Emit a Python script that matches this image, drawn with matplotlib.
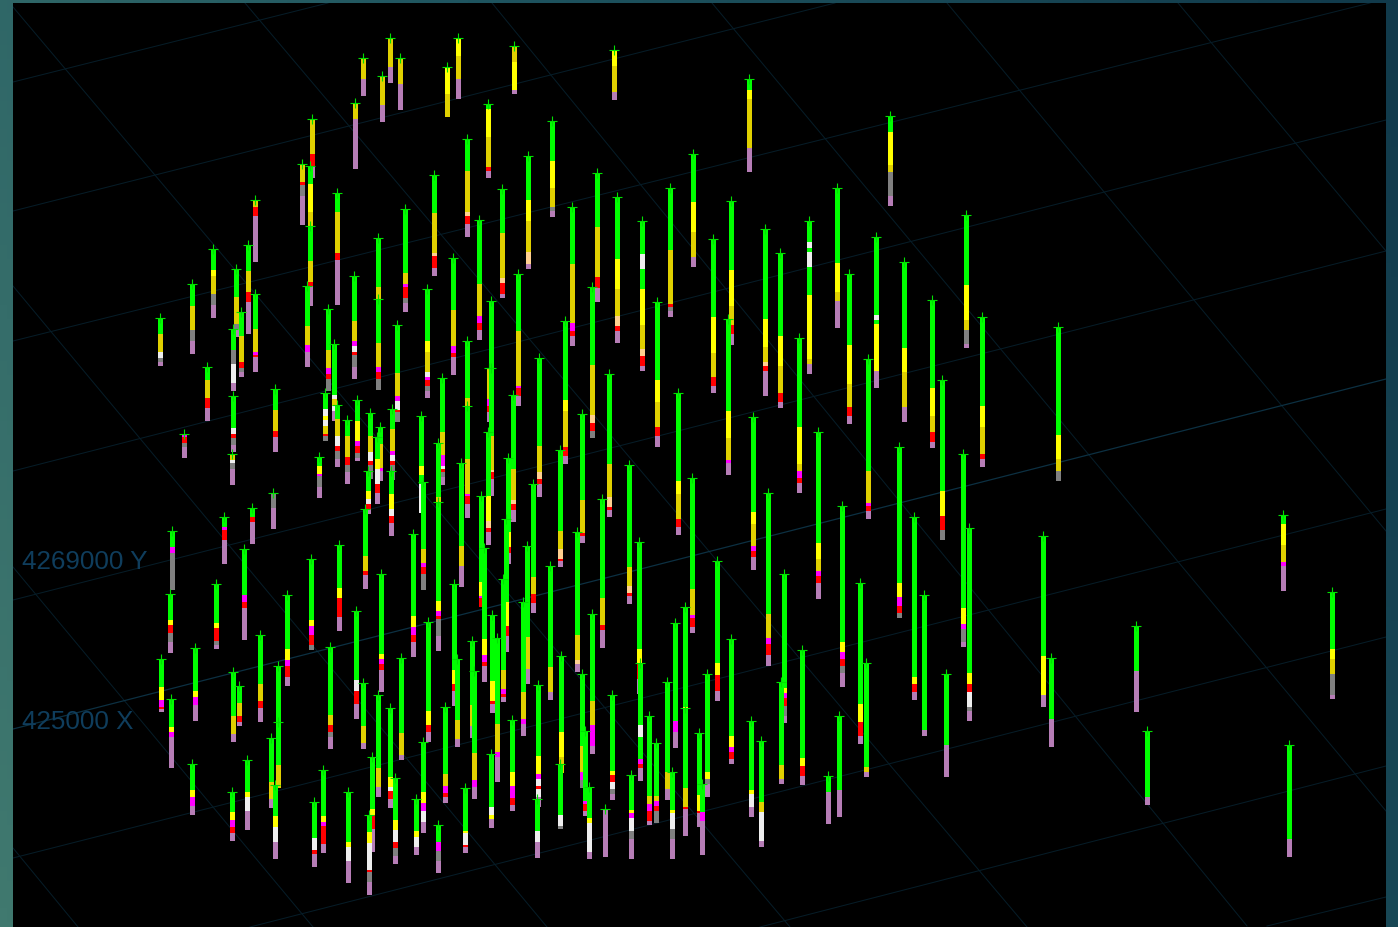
import numpy as np
import matplotlib
matplotlib.use("Agg")
import matplotlib.pyplot as plt
from matplotlib.collections import LineCollection
from matplotlib.colors import LinearSegmentedColormap

# HOLE POSITIONS AS READ FROM THE VIEW (SCREEN X, COLLAR Y)
hole_x = [160, 192, 213, 236, 248, 255, 255, 241, 233, 207,
          233, 275, 184, 302, 310, 312, 310, 355, 363, 382,
          390, 400, 447, 458, 488, 337, 405, 434, 467, 378,
          378, 354, 307, 328, 334, 397, 427, 453, 479, 491,
          489, 491, 232, 319, 337, 347, 357, 370, 377, 380,
          392, 421, 423, 442, 438, 438, 461, 467, 467, 481,
          484, 488, 172, 170, 224, 252, 273, 244, 216, 161,
          195, 171, 192, 233, 239, 260, 287, 311, 339, 330,
          278, 278, 271, 247, 232, 275, 314, 323, 348, 369,
          372, 395, 416, 438, 465, 491, 423, 445, 474, 472,
          457, 454, 428, 413, 381, 401, 390, 378, 363, 356,
          365, 368, 391, 492, 497, 514, 614, 749, 890, 552,
          528, 502, 597, 572, 617, 642, 670, 693, 713, 731,
          765, 780, 809, 837, 849, 876, 904, 932, 966, 518,
          565, 592, 657, 728, 539, 609, 582, 678, 753, 799,
          818, 868, 899, 942, 963, 513, 560, 508, 629, 692,
          768, 842, 533, 602, 577, 550, 639, 640, 717, 784,
          860, 914, 969, 924, 946, 866, 802, 839, 828, 781,
          761, 751, 731, 707, 685, 685, 675, 699, 702, 672,
          667, 649, 656, 631, 612, 592, 582, 585, 589, 605,
          561, 560, 538, 537, 512, 523, 527, 506, 503, 982,
          1058, 1043, 1051, 1136, 1147, 1283, 1332, 1289, 325]
hole_top = [319, 285, 250, 270, 246, 201, 295, 313, 330, 368,
            397, 390, 435, 165, 167, 120, 227, 104, 59, 77,
            39, 59, 68, 39, 105, 194, 210, 176, 140, 239,
            300, 277, 287, 310, 345, 326, 290, 259, 221, 302,
            369, 369, 455, 458, 406, 421, 401, 414, 438, 428,
            410, 417, 483, 379, 444, 503, 464, 342, 407, 497,
            549, 433, 532, 595, 518, 509, 494, 550, 585, 660,
            649, 700, 765, 673, 687, 636, 596, 560, 546, 648,
            667, 723, 739, 761, 793, 786, 803, 771, 793, 816,
            758, 779, 800, 826, 789, 755, 743, 708, 672, 642,
            660, 585, 623, 535, 575, 659, 709, 696, 684, 612,
            510, 472, 472, 616, 639, 47, 51, 80, 117, 122,
            157, 190, 174, 208, 198, 222, 189, 155, 240, 202,
            230, 254, 222, 189, 275, 238, 263, 301, 216, 275,
            322, 288, 303, 320, 359, 375, 415, 394, 418, 339,
            433, 360, 448, 381, 455, 396, 451, 459, 466, 479,
            494, 507, 485, 500, 533, 567, 543, 664, 562, 575,
            584, 518, 529, 596, 675, 664, 651, 717, 777, 683,
            742, 722, 640, 675, 608, 709, 624, 734, 785, 773,
            683, 717, 744, 776, 696, 615, 675, 732, 788, 810,
            657, 765, 686, 800, 721, 603, 547, 520, 580, 318,
            328, 537, 659, 627, 732, 516, 593, 746, 394]

# LITHOLOGY LOG OF EACH HOLE: CODE + Y WHERE THAT UNIT ENDS
hole_logs = [
    "G335 D353 W359 A363 P366", "G307 D331 A342 P354", "G271 Y277 D295 A306 P318",
    "G298 D325 A330 P337", "G272 D293 R303 P334", "D208 R217 P262",
    "G330 D353 M356 R358 P372", "G337 D363 R369 A373 P377", "G351 A365 W384 P391",
    "G381 D399 R409 P421",
    "G429 W435 R439 A446 P452", "G411 D432 R438 P452", "M438 R444 A448 P458",
    "D183 R186 A197 P225", "G185 Y213 D226", "D155 R167 P178",
    "G262 D283 R287 P306", "D120 P169", "D80 P96", "D106 P122",
    "D68 P83", "D85 P110", "Y95 D117", "Y57 D80 P99",
    "G110 Y138 D168 R172 P178", "G213 D254 R261 P305", "G274 D285 M288 R299 A304 P312",
    "G214 D254 T257 R269 P276", "G172 D213 T217 R225 P237", "G288 D300",
    "G344 D368 M373 R380 A390", "G322 D342 M347 W353 R356 A368 P379", "G327 D346 M353 P367",
    "G351 D369 M375 R380 A391", "G396 W400 D407 W412 P421", "G374 D397 M402 W411 R413 A422",
    "G342 Y353 D373 W378 M381 R387 A392 P398", "G311 D347 M354 R358 P375",
    "G285 D317 M324 R331 P340", "G369",
    "D400 M407 R413 P422", "G437 D471 T473 R480 P496", "D461 W464 A470 P485",
    "G467 Y475 M477 A488 P498", "G420 D437 W447 R452 A460 P467", "G437 D458 R466 A473 P484",
    "G422 Y442 M447 R454 A459 P461", "G437 D453 W462 R466 A479", "G460 Y470 W485 R494 P504",
    "G445 D469 M472 P481",
    "G430 D452 M456 W462 R466 A480", "G467 Y476 G485 W513", "G550 D564 M568 R575 A590",
    "G433 D456 M467 W470 R473 A478 P485", "G498 D503", "G602 Y612 M617 R620 A637 P651",
    "G547 D567 P587", "G399 D407", "G460 D495 M497 R505 P518", "G583 Y597 M599 R607",
    "G640 Y656 M663 R667 P682", "G497 Y522 T529 R533 P545", "G548 M554 A590",
    "G621 Y626 R634 A643 P653", "G528 M531 R541 P564", "G518 R523 P544", "A509 P529",
    "G596 M603 R609 P640", "G624 Y629 R642 A646 P649", "G688 Y701 M708 R710 P712",
    "G692 Y698 M706 P721", "G728 Y733 M738 P768", "G791 Y798 M807 P815", "G717 D735 P742",
    "G704 D717 R723 P726", "G685 D702 R709 P722", "G650 Y661 M667 R678 P686",
    "G621 Y627 M636 R646 A650", "G589 Y599 R618 P631", "G716 D726 R733 A738 P749",
    "G723", "G766 D788", "G783 D800 P808", "G793 Y798 W812 P830", "G813 Y821 M828 R834 P841",
    "G817 Y828 W843 P859", "G839 W851 R855 P867", "G817 Y823 M827 R845 P853",
    "G843 Y848 W862 P883", "G833 Y844 W871 R873 A883 P895",
    "G810 Y816 R830 P852", "G821 Y831 W843 R849 A857 P864", "G832 Y838 W848 P855",
    "G843 M852 A862 P873", "G832 Y834 W846 R848 P853", "G808 W816 Y820 P828",
    "G793 Y804 M812 W823 P833", "G775 D787 M794 R798 P803", "G754 D781 M788 P799",
    "G706 D727 P738",
    "G721 D740 P747", "G671 Y685 R692 P706", "G712 Y726 R733 P742",
    "G617 Y628 M636 R643 P657", "G655 Y660 M665 R671 P692", "G734 D756 P760",
    "G778 Y788 W792 R800 P808", "G769 D788 P797", "G727 D744 P749", "G681 W692 R705 P719",
    "G557 D572 R576 P589", "G492 Y500 W505 R510 P514", "G495 Y510 W517 R524 P536",
    "G682 Y702 R705 P713", "G725 D753 M758 P782", "D63 Y91 P94", "Y67 D93 P100",
    "G91 Y100 D149 P172", "G133 Y166 D173 A197 P206", "G162 Y189 D208 A212 P217",
    "G201 Y222 D253 T265 P269", "G234 D279 T284 R295 P298", "G228 D278 R289 P302",
    "G265 D324 M332 R337 P346", "G260 Y290 D317 T327 R332 P343",
    "G255 W270 G290 Y326 D350 T357 R367 P371", "G251 D305 R308 A312 P317",
    "G203 Y233 D258 P267", "G318 Y354 D378 R387 P393", "G271 Y307 D326 R335 P345",
    "G320 Y348 D363 T367 R372 P396", "G337 Y367 D394 R403 P408",
    "G243 W249 G253 W268 G296 Y360 D365 P374", "G264 Y293 D302 P328",
    "G346 Y385 D408 R417 P424", "G316 W321 G325 Y372 P388", "G349 Y373 D408 P422",
    "G389 Y417 D433 R443 P448", "G286 Y321 D331 A345 P348", "G332 D387 M389 R397 P406",
    "G401 Y412 D448 R457 P464", "G366 D416 T424 R432 A438", "G381 Y403 D428 R437 P447",
    "G412 Y439 D461 M464 P475", "G447 D473 T480 R485 P497", "G465 D498 T508 R511 P517",
    "G501 D534 R537 P543", "G482 Y495 D520 R528 P535", "G513 Y525 D547 M552 R558 P570",
    "G428 Y465 D472 M479 R484 P493",
    "G544 Y560 D572 M577 R584 P599", "G472 D504 M507 R512 P519", "G584 Y598 M607 R614 A618",
    "G492 Y517 R531 A540", "G609 Y625 M630 A643 P647", "G470 D501 T505 R511 P522",
    "G532 D550 T560 R562 P567", "G533 Y548 R554 P564", "G568 D587 T594 R597 P604",
    "G590 D616 M619 R628 P633",
    "G615 D639 M645 R656 P666", "G643 Y653 M660 R667 A674 P687", "G578 D595 R604 P613",
    "G599 D626 R631 P648", "G636 D661 T665 P672", "G668 D693 P700", "G650 Y665 R680 P694",
    "G726 W738 G760 M765 R769 P781", "G664 Y676 R692 P701", "G689 Y694 M699 R707 A717 P723",
    "G705 Y723 R737 P744", "G678 Y685 R693 P700", "G674 Y685 R693 W708 A712 P721",
    "G731 P736", "G746 P777", "G768 D773 P777", "G759 Y767 R777 P785", "G791 P817",
    "G793 P824", "G766 D780 P784",
    "G803 D813 W842 P847", "G791 Y795 W808 P817", "G737 Y748 M753 R760 P764",
    "G773 Y780 A785 P797", "G708 Y709", "G789 D808 R810 P836", "G722 M733 P748",
    "G796 Y812 R814 P827", "G813 M822 P855", "G811 Y814 W830 A840 P859",
    "G773 D790 P800", "G797 D805 M812 R822 P825", "G797 D802 M807 R812 A823",
    "G811 Y814 M819 W832 A840 P859", "G772 Y776 R783 W790 A795 P800", "G702 D726 M747 P754",
    "G747 D773 M781 A788", "G802 M805 R812 P816", "G819 Y824 W853 P859", "P857",
    "G733 Y758 D773", "G816 W827 A829", "G757 Y775 M780 W787 R790 W798 P807",
    "G832 W843 P858", "G773 Y787 M799 R806 P811", "G693 D720 M725 P736", "G638 D670 P684",
    "G603 Y627 R637 P652", "G671 D690 M695 R698 P702", "G407 Y428 D455 R460 P467",
    "G436 Y460 D472 A481", "G657 Y696 P707", "G720 P747", "G672 P712", "G798 P805",
    "G525 Y546 D563 M567 P591", "G650 Y660 D675 A696 P699", "G840 P857",
    "G410 W417 Y421 W427 D435 R437 A441",
]
assert len(hole_x) == len(hole_top) == len(hole_logs)

# LITHOLOGY COLOURS
lith_colors = {"G": "#00ff00", "Y": "#ffff00", "D": "#e0d000", "R": "#ff0000", "M": "#ff00ff",
               "W": "#eeeeee", "A": "#808080", "P": "#b67db6", "T": "#ffd090"}

# GRID LINES OF THE 3D VIEW (x0, y0, x1, y1)
grid_rising = [(13, 83, 328, 4), (13, 212, 835, 4), (13, 342, 1370, 4), (13, 472, 1386, 121),
               (13, 601, 1386, 252), (13, 859, 1386, 510), (250, 928, 1386, 638),
               (760, 928, 1386, 767), (1267, 927, 1386, 898)]
grid_bright = [(13, 730, 1386, 380)]
grid_falling = [(13, 8, 790, 928), (245, 4, 1027, 928), (492, 4, 1247, 927), (712, 4, 1386, 812),
                (947, 4, 1386, 532), (1178, 4, 1386, 252), (13, 287, 547, 928),
                (13, 568, 313, 928), (13, 849, 78, 928)]

fig = plt.figure(figsize=(13.98, 9.28), dpi=100)

# TEAL FRAME BEHIND THE VIEW
bg = fig.add_axes([0, 0, 1, 1])
cmap = LinearSegmentedColormap.from_list("frame", ["#113a4b", "#1f5560", "#40796f"])
xx, yy = np.meshgrid(np.linspace(1, 0, 200), np.linspace(0, 1, 200))
bg.imshow(0.75 * xx + 0.25 * yy, cmap=cmap, aspect="auto", vmin=0, vmax=1)
bg.axis("off")

# BLACK VIEW, Y AXIS DOWN SO VALUES ARE THE PICTURE ROWS
ax = fig.add_axes([13 / 1398, 0, (1386 - 13) / 1398, 1 - 4 / 928])
ax.set_facecolor("black")
ax.set_xlim(13, 1386)
ax.set_ylim(928, 4)
ax.set_xticks([])
ax.set_yticks([])
for s in ax.spines.values():
    s.set_visible(False)

for x0, y0, x1, y1 in grid_rising + grid_falling:
    ax.plot([x0, x1], [y0, y1], color="#061c27", lw=0.75, zorder=1)
for x0, y0, x1, y1 in grid_bright:
    ax.plot([x0, x1], [y0, y1], color="#0c3042", lw=0.9, zorder=1)

ax.text(22, 569, "4269000 Y", color="#0f3d5c", fontsize=18.7, family="Liberation Sans", zorder=2)
ax.text(22, 729, "425000 X", color="#0f3d5c", fontsize=18.7, family="Liberation Sans", zorder=2)

# HOLES, THE FARTHEST (HIGHEST ON SCREEN) FIRST
z = 3
for i in np.argsort(hole_top, kind="stable"):
    x = hole_x[i]
    start = hole_top[i]
    segs = []
    cols = []
    for unit in hole_logs[i].split():
        end = int(unit[1:])
        segs.append([(x, start), (x, end)])
        cols.append(lith_colors[unit[0]])
        start = end
    lc = LineCollection(segs, colors=cols, linewidths=2.5, capstyle="butt", zorder=z)
    lc.set_antialiased(False)
    ax.add_collection(lc)
    ax.plot([x], [hole_top[i]], marker="+", ms=7.5, mew=0.8, color="#00e000", ls="none", zorder=z)
    z += 0.01

fig.savefig("out.png", dpi=100)
